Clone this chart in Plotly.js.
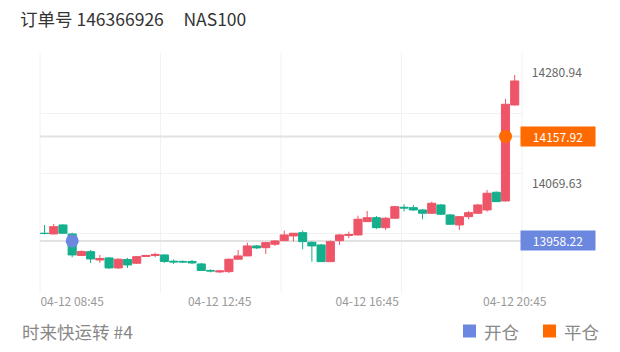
<!DOCTYPE html>
<html>
<head>
<meta charset="utf-8">
<script src="https://cdn.plot.ly/plotly-3.0.1.min.js"></script>
<style>
  html, body { margin: 0; padding: 0; background: #fff; }
  #chart { width: 620px; height: 352px; }
</style>
</head>
<body>
<div id="chart"></div>
<script>
// ---- data ----
const times = [
  "04-12 08:00","04-12 08:15","04-12 08:30","04-12 08:45","04-12 09:00","04-12 09:15","04-12 09:30","04-12 09:45",
  "04-12 10:00","04-12 10:15","04-12 10:30","04-12 10:45","04-12 11:00","04-12 11:15","04-12 11:30","04-12 11:45",
  "04-12 12:00","04-12 12:15","04-12 12:30","04-12 12:45","04-12 13:00","04-12 13:15","04-12 13:30","04-12 13:45",
  "04-12 14:00","04-12 14:15","04-12 14:30","04-12 14:45","04-12 15:00","04-12 15:15","04-12 15:30","04-12 15:45",
  "04-12 16:00","04-12 16:15","04-12 16:30","04-12 16:45","04-12 17:00","04-12 17:15","04-12 17:30","04-12 17:45",
  "04-12 18:00","04-12 18:15","04-12 18:30","04-12 18:45","04-12 19:00","04-12 19:15","04-12 19:30","04-12 19:45",
  "04-12 20:00","04-12 20:15","04-12 20:30","04-12 20:45"
];
const opens = [
  13972.9,13971.6,13988.8,13971.6,13930.5,13937.8,13921.9,13925.8,
  13906.7,13922.9,13915.6,13928.6,13930.5,13931.5,13919.6,13919.1,
  13919.1,13914.3,13901.9,13899.0,13899.6,13923.3,13929.6,13948.7,
  13945.4,13951.9,13958.8,13967.8,13974.1,13955.7,13950.6,13918.7,
  13958.8,13968.7,13969.7,13995.1,14002.7,13983.6,14001.6,14022.6,
  14021.8,14017.4,14011.1,14027.0,14007.9,13988.8,14004.6,14011.1,
  14017.4,14051.2,14034.6,14217.9
];
const highs = [
  13988.8,13990.7,13990.2,13974.1,13940.1,13941.0,13931.5,13927.7,
  13924.8,13925.8,13929.6,13931.5,13935.9,13932.4,13922.9,13921.0,
  13921.9,13916.2,13903.8,13902.8,13924.8,13941.0,13955.0,13950.6,
  13956.3,13960.1,13977.9,13973.5,13977.9,13957.3,13952.5,13959.2,
  13971.6,13976.0,14006.5,14015.5,14006.0,14004.1,14025.1,14028.3,
  14027.0,14019.3,14033.3,14028.9,14009.8,14006.0,14015.5,14028.9,
  14055.6,14052.7,14229.4,14275.2
];
const lows = [
  13970.6,13971.0,13972.5,13927.1,13929.6,13916.2,13916.2,13904.8,
  13904.8,13906.7,13914.3,13927.7,13927.1,13916.2,13914.3,13916.2,
  13914.3,13900.9,13898.1,13897.1,13897.1,13922.9,13929.6,13942.9,
  13933.4,13948.7,13958.2,13956.9,13942.4,13918.7,13918.1,13918.1,
  13950.6,13963.4,13968.7,13994.5,13981.1,13979.2,14000.2,14014.6,
  14015.5,13999.7,14009.8,14007.9,13988.8,13979.2,13999.7,14009.8,
  14014.2,14032.7,14033.7,14217.0
];
const closes = [
  13972.5,13985.5,13972.9,13931.5,13938.2,13923.8,13924.8,13906.7,
  13923.3,13912.4,13928.2,13930.5,13932.4,13919.1,13918.1,13918.1,
  13916.2,13901.9,13900.9,13900.9,13923.3,13929.6,13948.7,13944.9,
  13955.0,13958.2,13969.7,13972.9,13956.9,13948.7,13918.7,13956.9,
  13969.7,13970.6,13999.7,14002.7,13983.6,14001.6,14023.7,14021.2,
  14017.4,14011.1,14030.2,14009.2,13990.1,14004.6,14012.3,14027.0,
  14049.3,14033.3,14219.3,14263.8
];
const tickLabels = ["04-12 08:45","04-12 12:45","04-12 16:45","04-12 20:45"];
const openTime = ["04-12 08:45"];
const openPrice = [13958.22];
const closeTime = ["04-12 20:30"];
const closePrice = [14157.92];
const priceLabels = [14280.94, 14069.63];
const orderNo = "146366926";
const symbol = "NAS100";
const strategyName = "时来快运转 #4";
const legendNames = ["开仓", "平仓"];

// ---- style ----
const RED = "#EE5568", GREEN = "#14AF8C", BLUE = "#6B87E0", ORANGE = "#FF6A00";
const FONT = "Noto Sans CJK SC, Noto Sans, sans-serif";
const plotL = 40, plotR = 522, plotT = 53, plotB = 293;
const px = x => (x - plotL) / (plotR - plotL);
const py = y => (plotB - y) / (plotB - plotT);

const traces = [
  {
    type: "candlestick", x: times, open: opens, high: highs, low: lows, close: closes,
    increasing: { line: { color: RED, width: 1 }, fillcolor: RED },
    decreasing: { line: { color: GREEN, width: 1 }, fillcolor: GREEN },
    whiskerwidth: 0, showlegend: false, hoverinfo: "skip"
  },
  {
    type: "scatter", mode: "markers", x: openTime, y: openPrice, showlegend: false,
    marker: { color: BLUE, size: 13 }
  },
  {
    type: "scatter", mode: "markers", x: closeTime, y: closePrice, showlegend: false,
    marker: { color: ORANGE, size: 13 }
  }
];

const annotations = [];
priceLabels.forEach(v => annotations.push({
  xref: "paper", yref: "y", x: 1, y: v, xanchor: "left", yanchor: "middle",
  xshift: -2, width: 70, align: "center", showarrow: false, text: v.toFixed(2),
  font: { family: FONT, size: 12, color: "#666" }
}));
annotations.push({
  xref: "paper", yref: "y", x: 1, y: closePrice[0], xanchor: "left", yanchor: "middle",
  xshift: -2, width: 70, height: 15, borderpad: 2, align: "center", showarrow: false,
  text: closePrice[0].toFixed(2), bgcolor: ORANGE, font: { family: FONT, size: 12, color: "#fff" }
});
annotations.push({
  xref: "paper", yref: "y", x: 1, y: openPrice[0], xanchor: "left", yanchor: "middle",
  xshift: -2, width: 70, height: 15, borderpad: 2, align: "center", showarrow: false,
  text: openPrice[0].toFixed(2), bgcolor: BLUE, font: { family: FONT, size: 12, color: "#fff" }
});
annotations.push({
  xref: "paper", yref: "paper", x: px(20), y: py(331), xanchor: "left", yanchor: "middle",
  showarrow: false, text: strategyName, font: { family: FONT, size: 17.5, color: "#888" }
});
annotations.push({
  xref: "paper", yref: "paper", x: px(482), y: py(331), xanchor: "left", yanchor: "middle",
  showarrow: false, text: legendNames[0], font: { family: FONT, size: 17.5, color: "#888" }
});
annotations.push({
  xref: "paper", yref: "paper", x: px(562), y: py(331), xanchor: "left", yanchor: "middle",
  showarrow: false, text: legendNames[1], font: { family: FONT, size: 17.5, color: "#888" }
});

const shapes = [];
[0, 0.25, 0.5, 0.75, 1].forEach(f => shapes.push({
  type: "line", xref: "paper", yref: "paper", x0: f, x1: f, y0: 0, y1: 1,
  line: { color: "#f2f2f2", width: 1 }, layer: "below"
}));
shapes.push({ type: "line", xref: "paper", yref: "y", x0: 0, x1: 1, y0: closePrice[0], y1: closePrice[0],
  line: { color: "#e2e2e2", width: 2 }, layer: "below" });
shapes.push({ type: "line", xref: "paper", yref: "y", x0: 0, x1: 1, y0: openPrice[0], y1: openPrice[0],
  line: { color: "#e2e2e2", width: 2 }, layer: "below" });
shapes.push({ type: "rect", xref: "paper", yref: "paper", x0: px(463), x1: px(476), y0: py(337.5), y1: py(324.5),
  fillcolor: BLUE, line: { width: 0 } });
shapes.push({ type: "rect", xref: "paper", yref: "paper", x0: px(543), x1: px(556), y0: py(337.5), y1: py(324.5),
  fillcolor: ORANGE, line: { width: 0 } });

const layout = {
  width: 620, height: 352,
  margin: { l: plotL, r: 620 - plotR, t: plotT, b: 352 - plotB, pad: 0 },
  paper_bgcolor: "#fff", plot_bgcolor: "#fff",
  font: { family: FONT, color: "#999" },
  boxgap: 0.12, boxgroupgap: 0,
  title: {
    text: "订单号 " + orderNo + "&nbsp;&nbsp;&nbsp;&nbsp;&nbsp;" + symbol,
    xref: "container", yref: "container", x: 20 / 620, xanchor: "left",
    y: 1 - 20 / 352, yanchor: "middle",
    font: { family: FONT, size: 17.5, color: "#333" }
  },
  showlegend: false,
  xaxis: {
    type: "category", range: [-0.49, 51.79], rangeslider: { visible: false },
    tickmode: "array", tickvals: tickLabels, ticktext: tickLabels,
    showgrid: false, zeroline: false, showline: false, ticks: "",
    tickfont: { family: FONT, size: 12, color: "#999" }, fixedrange: true
  },
  yaxis: {
    range: [13858.8, 14317.2], tick0: 13858.8, dtick: 114.6, tickmode: "linear",
    showgrid: true, gridcolor: "#f2f2f2", gridwidth: 1,
    showticklabels: false, zeroline: false, showline: false, ticks: "", fixedrange: true
  },
  annotations: annotations,
  shapes: shapes
};

Plotly.newPlot("chart", traces, layout, { displayModeBar: false, staticPlot: true });
</script>
</body>
</html>
